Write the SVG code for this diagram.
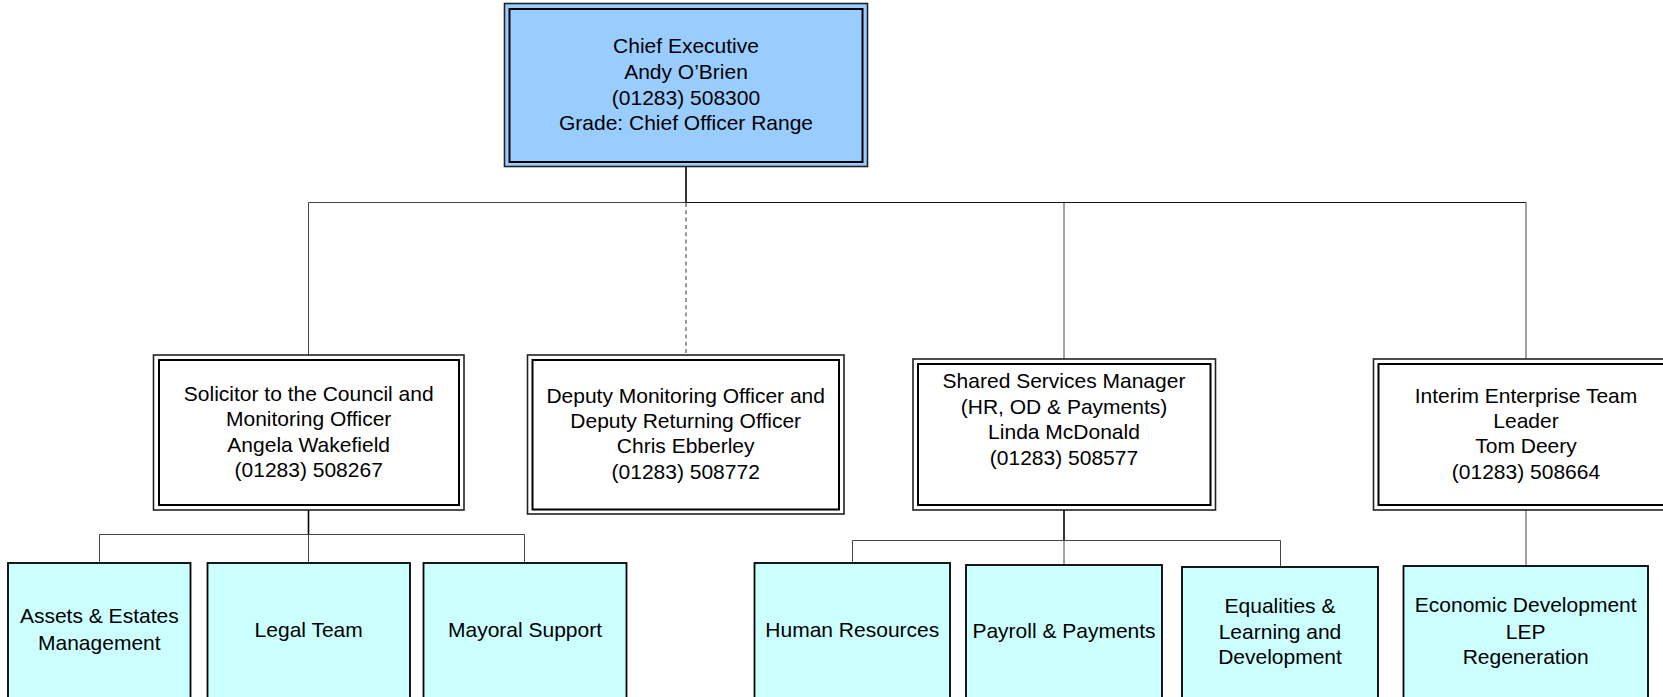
<svg xmlns="http://www.w3.org/2000/svg" width="1663" height="697" viewBox="0 0 1663 697">
<defs>
<style>
.bg{fill:#ffffff}
.outer{fill:#ffffff;stroke:#222222;stroke-width:1.6}
.inner{fill:none;stroke:#000000;stroke-width:2}
.chief .outer{fill:#99CCFF}
.leaf{fill:#CCFFFF;stroke:#000000;stroke-width:1.8}
.t{font-family:"Liberation Sans",Arial,sans-serif;font-size:21px;fill:#000000;text-anchor:middle}
.c{fill:none;stroke:#444444;stroke-width:1}
.stub{fill:none;stroke:#000000;stroke-width:1.6}
.dash{fill:none;stroke:#808080;stroke-width:1.6;stroke-dasharray:4 3.3}
</style>
</defs>
<rect class="bg" x="0" y="0" width="1663" height="697"/>

<g id="connectors">
<path class="stub" d="M686,167 V202.5"/>
<path class="c" d="M308.5,202.5 H686"/>
<path class="c" style="stroke:#111111" d="M686,202.5 H1526"/>
<path class="c" d="M308.5,202.5 V355"/>
<path class="dash" d="M686,203 V355"/>
<path class="c" d="M1064,202.5 V359"/>
<path class="c" d="M1526,202.5 V359"/>
<path class="stub" d="M308.5,510 V534.5"/>
<path class="c" d="M99.5,534.5 H524.5"/>
<path class="c" d="M99.5,534.5 V563"/>
<path class="c" d="M308.5,534.5 V563"/>
<path class="c" d="M524.5,534.5 V563"/>
<path class="stub" d="M1064,510 V541"/>
<path class="c" d="M852.5,540.5 H1280.5"/>
<path class="c" d="M852.5,540.5 V563"/>
<path class="c" d="M1064,540.5 V565"/>
<path class="c" d="M1280.5,540.5 V567"/>
<path class="c" d="M1526,510 V566"/>
</g>

<g id="chief" class="chief">
<rect class="outer" x="504.5" y="3.5" width="363" height="163"/>
<rect class="inner" x="509.5" y="9" width="353" height="153"/>
<text class="t" x="686" y="53">Chief Executive</text>
<text class="t" x="686" y="79">Andy O’Brien</text>
<text class="t" x="686" y="104.5">(01283) 508300</text>
<text class="t" x="686" y="130">Grade: Chief Officer Range</text>
</g>

<g id="solicitor">
<rect class="outer" x="153.5" y="355" width="310.5" height="155"/>
<rect class="inner" x="159" y="360" width="300" height="145"/>
<text class="t" x="308.7" y="401">Solicitor to the Council and</text>
<text class="t" x="308.7" y="426.3">Monitoring Officer</text>
<text class="t" x="308.7" y="451.5">Angela Wakefield</text>
<text class="t" x="308.7" y="476.7">(01283) 508267</text>
</g>

<g id="deputy">
<rect class="outer" x="527.5" y="355" width="316.5" height="159"/>
<rect class="inner" x="532.5" y="360" width="306.5" height="149.5"/>
<text class="t" x="685.7" y="402.7">Deputy Monitoring Officer and</text>
<text class="t" x="685.7" y="428">Deputy Returning Officer</text>
<text class="t" x="685.7" y="453.3">Chris Ebberley</text>
<text class="t" x="685.7" y="478.5">(01283) 508772</text>
</g>

<g id="shared">
<rect class="outer" x="913" y="359" width="302.5" height="151"/>
<rect class="inner" x="918" y="364" width="292.5" height="141"/>
<text class="t" x="1064" y="388.3">Shared Services Manager</text>
<text class="t" x="1064" y="413.5">(HR, OD &amp; Payments)</text>
<text class="t" x="1064" y="439">Linda McDonald</text>
<text class="t" x="1064" y="464.5">(01283) 508577</text>
</g>

<g id="interim">
<rect class="outer" x="1373.5" y="359" width="305" height="151"/>
<rect class="inner" x="1378.5" y="364" width="295" height="141"/>
<text class="t" x="1526" y="402.7">Interim Enterprise Team</text>
<text class="t" x="1526" y="428">Leader</text>
<text class="t" x="1526" y="453.3">Tom Deery</text>
<text class="t" x="1526" y="478.5">(01283) 508664</text>
</g>

<g id="assets">
<rect class="leaf" x="8" y="563" width="182.5" height="150"/>
<text class="t" x="99.3" y="623.3">Assets &amp; Estates</text>
<text class="t" x="99.3" y="650">Management</text>
</g>

<g id="legal">
<rect class="leaf" x="207.5" y="563" width="202.5" height="150"/>
<text class="t" x="308.7" y="636.7">Legal Team</text>
</g>

<g id="mayoral">
<rect class="leaf" x="423.5" y="563" width="203" height="150"/>
<text class="t" x="525" y="636.7">Mayoral Support</text>
</g>

<g id="hr">
<rect class="leaf" x="754.5" y="563" width="195.5" height="150"/>
<text class="t" x="852.3" y="636.7">Human Resources</text>
</g>

<g id="payroll">
<rect class="leaf" x="966" y="565" width="196" height="150"/>
<text class="t" x="1064" y="637.7">Payroll &amp; Payments</text>
</g>

<g id="equalities">
<rect class="leaf" x="1182" y="567" width="196" height="150"/>
<text class="t" x="1280" y="613.3">Equalities &amp;</text>
<text class="t" x="1280" y="639">Learning and</text>
<text class="t" x="1280" y="664.3">Development</text>
</g>

<g id="economic">
<rect class="leaf" x="1403.5" y="566" width="244.5" height="150"/>
<text class="t" x="1525.7" y="612">Economic Development</text>
<text class="t" x="1525.7" y="638.5">LEP</text>
<text class="t" x="1525.7" y="664">Regeneration</text>
</g>
</svg>
